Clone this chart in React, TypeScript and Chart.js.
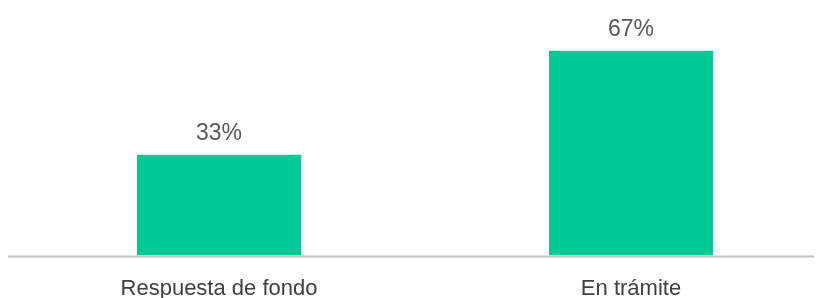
import React, { useEffect, useRef } from "react";
import { Chart, registerables } from "chart.js";

Chart.register(...registerables);

const categories = ["Respuesta de fondo", "En trámite"];
const values = [33, 67];
const valueLabels = ["33%", "67%"];

const BAR_COLOR = "#00C995";
const FONT = "'Liberation Sans', Arial, sans-serif";

const valueLabelPlugin = {
  id: "valueLabels",
  afterDatasetsDraw(chart: any) {
    const { ctx } = chart;
    const meta = chart.getDatasetMeta(0);
    ctx.save();
    ctx.font = `23px ${FONT}`;
    ctx.fillStyle = "#595959";
    ctx.textAlign = "center";
    ctx.textBaseline = "alphabetic";
    meta.data.forEach((bar: any, i: number) => {
      ctx.fillText(valueLabels[i], bar.x, bar.y - 15);
    });
    ctx.restore();
  },
};

const baselinePlugin = {
  id: "baseline",
  afterDatasetsDraw(chart: any) {
    const { ctx, chartArea } = chart;
    ctx.save();
    ctx.strokeStyle = "#c4c4c4";
    ctx.lineWidth = 2;
    ctx.beginPath();
    ctx.moveTo(0, chartArea.bottom + 1);
    ctx.lineTo(chart.width, chartArea.bottom + 1);
    ctx.stroke();
    ctx.restore();
  },
};

export default function App() {
  const ref = useRef<HTMLCanvasElement>(null);
  useEffect(() => {
    if (!ref.current) return;
    const chart = new Chart(ref.current, {
      type: "bar",
      data: {
        labels: categories,
        datasets: [
          {
            data: values,
            backgroundColor: BAR_COLOR,
            barPercentage: 0.398,
            categoryPercentage: 1,
          },
        ],
      },
      options: {
        responsive: false,
        animation: false,
        layout: { padding: { left: 5, right: 0, top: 3, bottom: 0 } },
        plugins: { legend: { display: false }, tooltip: { enabled: false } },
        scales: {
          x: {
            grid: { display: false },
            border: { display: false },
            ticks: {
              color: "#404040",
              font: { family: FONT, size: 22 },
              padding: 12,
              maxRotation: 0,
              autoSkip: false,
            },
          },
          y: {
            display: false,
            min: 0,
            max: 80,
          },
        },
      },
      plugins: [valueLabelPlugin, baselinePlugin],
    });
    return () => chart.destroy();
  }, []);
  return (
    <div style={{ width: 814, height: 306, overflow: "hidden" }}>
      <canvas ref={ref} width={829} height={306} />
    </div>
  );
}
